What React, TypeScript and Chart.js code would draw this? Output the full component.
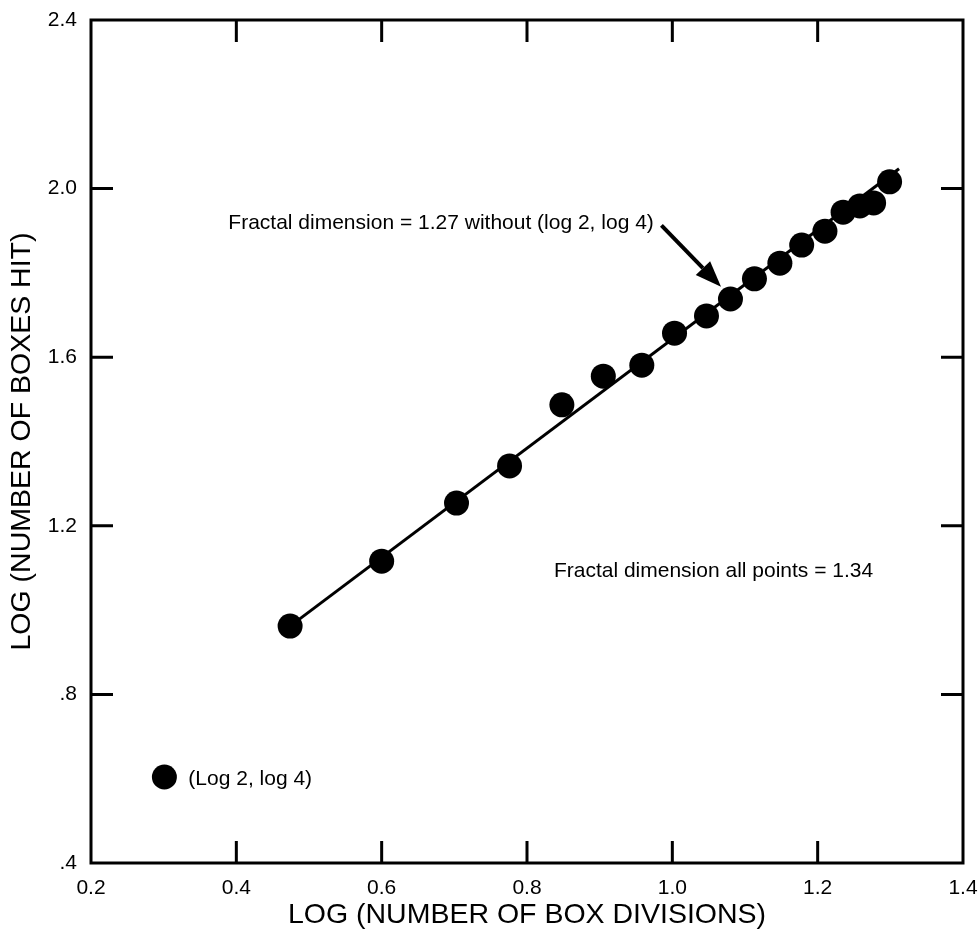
import React, { useEffect, useRef } from "react";
import { Chart, registerables } from "chart.js";

Chart.register(...registerables);

// ---- Data ----
const boxDivisionsLog = [0.301, 0.474, 0.6, 0.703, 0.776, 0.848, 0.905, 0.958, 1.003, 1.047, 1.08, 1.113, 1.148, 1.178, 1.21, 1.235, 1.258, 1.277, 1.299];
const boxesHitLog = [0.604, 0.962, 1.116, 1.254, 1.342, 1.487, 1.555, 1.581, 1.657, 1.698, 1.738, 1.786, 1.823, 1.866, 1.899, 1.944, 1.959, 1.966, 2.016];

const fitLineX = [0.474, 1.312];
const fitLineY = [0.962, 2.047];

const xTickValues = [0.2, 0.4, 0.6, 0.8, 1.0, 1.2, 1.4];
const xTickLabels = ["0.2", "0.4", "0.6", "0.8", "1.0", "1.2", "1.4"];
const yTickValues = [0.4, 0.8, 1.2, 1.6, 2.0, 2.4];
const yTickLabels = [".4", ".8", "1.2", "1.6", "2.0", "2.4"];

const xTitle = "LOG (NUMBER OF BOX DIVISIONS)";
const yTitle = "LOG (NUMBER OF BOXES HIT)";

const noteWithout = "Fractal dimension = 1.27 without (log 2, log 4)";
const noteAll = "Fractal dimension all points = 1.34";
const noteOutlier = "(Log 2, log 4)";

const FONT = "'Liberation Sans', Arial, Helvetica, sans-serif";

const framePlugin = {
  id: "frameAndNotes",
  afterDraw(chart: any) {
    const { ctx, chartArea, scales } = chart;
    const { left, right, top, bottom } = chartArea;
    const x = scales.x;
    const y = scales.y;
    ctx.save();
    ctx.strokeStyle = "#000";
    ctx.lineWidth = 3;
    ctx.lineCap = "butt";
    ctx.strokeRect(left, top, right - left, bottom - top);
    const tl = 22;
    ctx.beginPath();
    xTickValues.slice(1, -1).forEach((v) => {
      const px = x.getPixelForValue(v);
      ctx.moveTo(px, bottom);
      ctx.lineTo(px, bottom - tl);
      ctx.moveTo(px, top);
      ctx.lineTo(px, top + tl);
    });
    yTickValues.slice(1, -1).forEach((v) => {
      const py = y.getPixelForValue(v);
      ctx.moveTo(left, py);
      ctx.lineTo(left + tl, py);
      ctx.moveTo(right, py);
      ctx.lineTo(right - tl, py);
    });
    ctx.stroke();

    // notes
    ctx.fillStyle = "#000";
    ctx.font = `21px ${FONT}`;
    ctx.textAlign = "left";
    ctx.textBaseline = "middle";
    ctx.fillText(noteWithout, x.getPixelForValue(0.389), y.getPixelForValue(1.918));
    ctx.fillText(noteAll, x.getPixelForValue(0.837), y.getPixelForValue(1.093));
    ctx.fillText(noteOutlier, x.getPixelForValue(0.334), y.getPixelForValue(0.599));

    // arrow
    const ax0 = x.getPixelForValue(0.985);
    const ay0 = y.getPixelForValue(1.913);
    const ax1 = x.getPixelForValue(1.067);
    const ay1 = y.getPixelForValue(1.767);
    const ang = Math.atan2(ay1 - ay0, ax1 - ax0);
    const headLen = 26;
    const headW = 10;
    const bx = ax1 - headLen * Math.cos(ang);
    const by = ay1 - headLen * Math.sin(ang);
    ctx.lineWidth = 4;
    ctx.beginPath();
    ctx.moveTo(ax0, ay0);
    ctx.lineTo(bx, by);
    ctx.stroke();
    ctx.beginPath();
    ctx.moveTo(ax1, ay1);
    ctx.lineTo(bx + headW * Math.sin(ang), by - headW * Math.cos(ang));
    ctx.lineTo(bx - headW * Math.sin(ang), by + headW * Math.cos(ang));
    ctx.closePath();
    ctx.fill();
    ctx.restore();
  },
};

export default function App() {
  const ref = useRef<HTMLCanvasElement | null>(null);

  useEffect(() => {
    document.body.style.margin = "0";
    if (!ref.current) return;
    const chart = new Chart(ref.current, {
      type: "scatter",
      data: {
        datasets: [
          {
            type: "line",
            data: fitLineX.map((v, i) => ({ x: v, y: fitLineY[i] })),
            borderColor: "#000",
            borderWidth: 3,
            pointRadius: 0,
            fill: false,
            clip: false,
          } as any,
          {
            data: boxDivisionsLog.map((v, i) => ({ x: v, y: boxesHitLog[i] })),
            backgroundColor: "#000",
            borderColor: "#000",
            borderWidth: 0,
            pointRadius: 12.5,
            clip: false,
          } as any,
        ],
      },
      options: {
        animation: false,
        responsive: false,
        devicePixelRatio: 1,
        layout: { padding: { top: 20, right: 16, left: 0, bottom: 0 } },
        plugins: {
          legend: { display: false },
          tooltip: { enabled: false },
        },
        scales: {
          x: {
            type: "linear",
            min: 0.2,
            max: 1.4,
            afterBuildTicks: (scale: any) => {
              scale.ticks = xTickValues.map((v) => ({ value: v }));
            },
            afterFit: (scale: any) => {
              scale.height = 81;
              scale.paddingLeft = 0;
              scale.paddingRight = 0;
            },
            grid: { display: false, drawTicks: false },
            border: { display: false },
            ticks: {
              color: "#000",
              font: { family: FONT, size: 21 },
              padding: 13,
              maxRotation: 0,
              autoSkip: false,
              callback: (v: any) => {
                const i = xTickValues.findIndex((t) => Math.abs(t - Number(v)) < 1e-6);
                return i >= 0 ? xTickLabels[i] : "";
              },
            },
            title: {
              display: true,
              text: xTitle,
              color: "#000",
              font: { family: FONT, size: 28.5 },
              padding: { top: 0, bottom: 12 },
            },
          },
          y: {
            type: "linear",
            min: 0.4,
            max: 2.4,
            afterBuildTicks: (scale: any) => {
              scale.ticks = yTickValues.map((v) => ({ value: v }));
            },
            afterFit: (scale: any) => {
              scale.width = 91;
              scale.paddingTop = 0;
              scale.paddingBottom = 0;
            },
            grid: { display: false, drawTicks: false },
            border: { display: false },
            ticks: {
              color: "#000",
              font: { family: FONT, size: 21 },
              padding: 14,
              autoSkip: false,
              callback: (v: any) => {
                const i = yTickValues.findIndex((t) => Math.abs(t - Number(v)) < 1e-6);
                return i >= 0 ? yTickLabels[i] : "";
              },
            },
            title: {
              display: true,
              text: yTitle,
              color: "#000",
              font: { family: FONT, size: 28.5 },
              padding: { top: 5, bottom: 0 },
            },
          },
        },
      },
      plugins: [framePlugin],
    } as any);
    return () => chart.destroy();
  }, []);

  return <canvas ref={ref} width={979} height={944} style={{ display: "block" }} />;
}
